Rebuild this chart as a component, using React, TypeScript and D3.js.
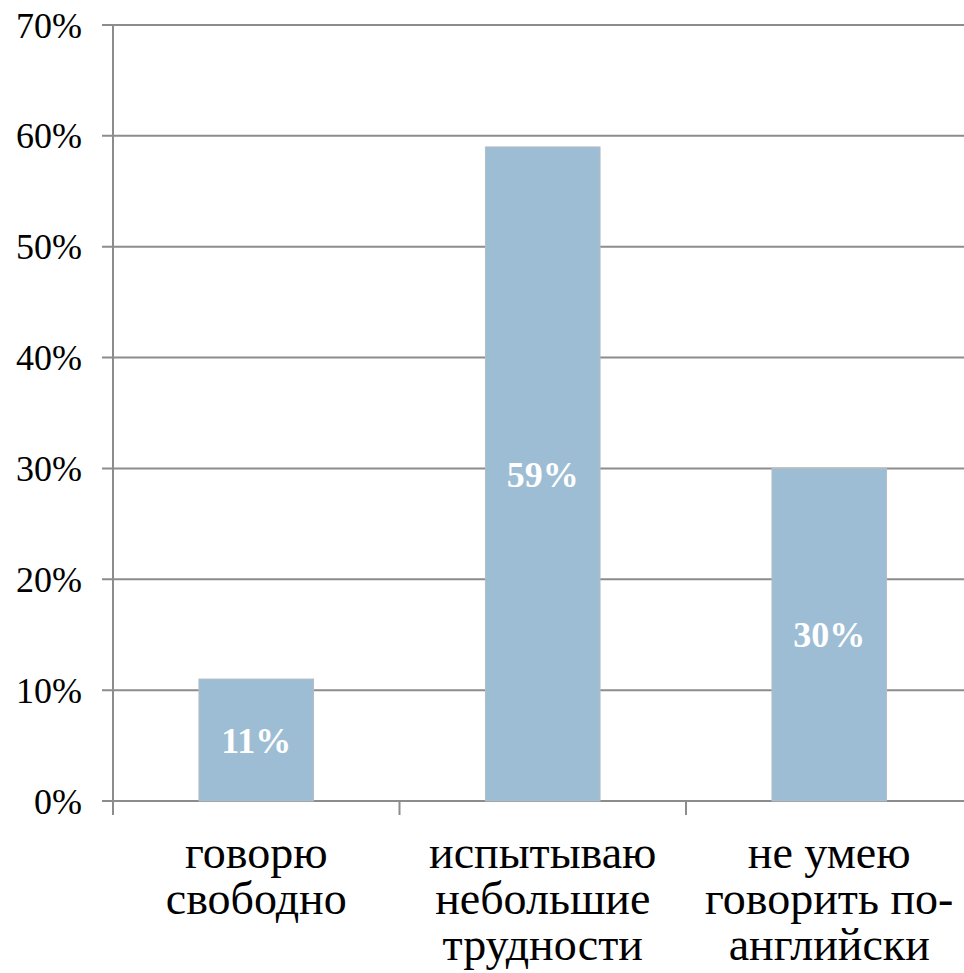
import React from 'react';
import * as d3 from 'd3';

const categories = ['говорю свободно', 'испытываю небольшие трудности', 'не умею говорить по-английски'];
const categoryLines = [
  ['говорю', 'свободно'],
  ['испытываю', 'небольшие', 'трудности'],
  ['не умею', 'говорить по-', 'английски'],
];
const values = [0.11, 0.59, 0.3];
const yTicks = [0, 0.1, 0.2, 0.3, 0.4, 0.5, 0.6, 0.7];

const W = 964;
const H = 973;
const left = 113;
const top = 25;
const bottom = 801;
const font = "'Liberation Serif'";
const gridColor = '#8c8c8c';

export default function App() {
  const y = d3.scaleLinear().domain([0, 0.7]).range([bottom, top]);
  // the plot is cut off on the right in the reference, so the bands run past the edge
  const x = d3.scaleBand<string>().domain(categories).range([left, left + 3 * 286.5]).padding(0);
  const bw = x.bandwidth();
  const pct = d3.format('.0%');

  return (
    <div style={{ position: 'absolute', left: 0, top: 0 }}>
      <svg width={W} height={H} style={{ display: 'block', background: '#fff' }}>
        {yTicks.map((t) => (
          <g key={t}>
            <line x1={left - 11} x2={W} y1={y(t)} y2={y(t)} stroke={gridColor} strokeWidth={2} />
            <text x={82} y={y(t)} dy="0.35em" textAnchor="end" fontSize={36} fill="#000" style={{ fontFamily: font }}>
              {pct(t)}
            </text>
          </g>
        ))}
        <line x1={left} x2={left} y1={top} y2={bottom + 14} stroke={gridColor} strokeWidth={2} />
        {categories.slice(1).map((c) => (
          <line key={c} x1={x(c)} x2={x(c)} y1={bottom} y2={bottom + 14} stroke={gridColor} strokeWidth={2} />
        ))}
        {values.map((v, i) => (
          <rect
            key={i}
            x={x(categories[i])! + bw * 0.3}
            width={bw * 0.4}
            y={y(v)}
            height={bottom - y(v)}
            fill="#9dbdd4"
            stroke="#b4bcc4"
            strokeWidth={1}
          />
        ))}
        {values.map((v, i) => (
          <text
            key={i}
            x={x(categories[i])! + bw / 2}
            y={(y(v) + bottom) / 2}
            dy="0.35em"
            textAnchor="middle"
            fontSize={36}
            fontWeight="bold"
            fill="#fff"
            style={{ fontFamily: font }}
          >
            {pct(v)}
          </text>
        ))}
        {categoryLines.map((lines, i) => (
          <text key={i} textAnchor="middle" fontSize={46} fill="#000" style={{ fontFamily: font }}>
            {lines.map((ln, j) => (
              <tspan key={j} x={x(categories[i])! + bw / 2} y={868 + j * 46}>
                {ln}
              </tspan>
            ))}
          </text>
        ))}
      </svg>
    </div>
  );
}
